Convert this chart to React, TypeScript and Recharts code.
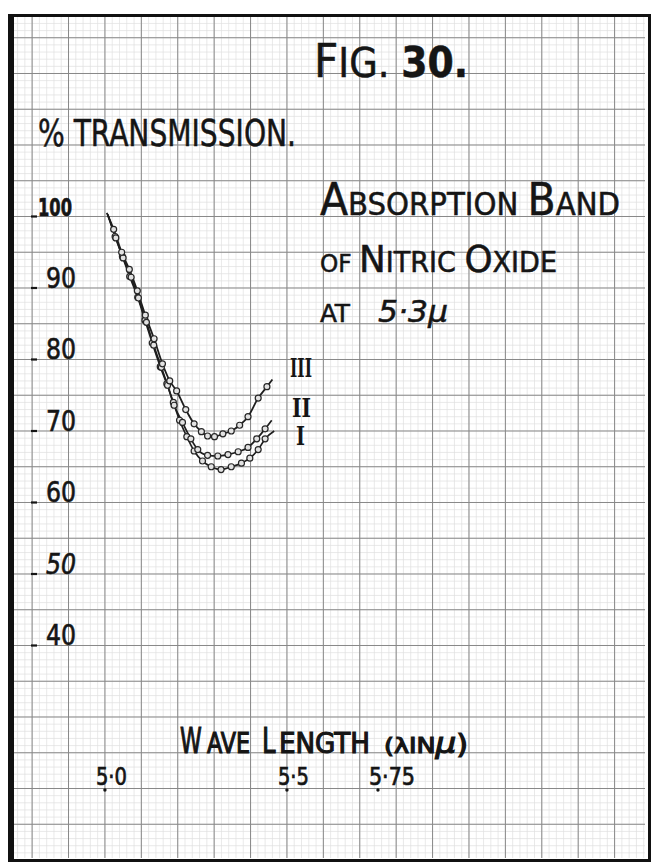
import React from "react";
import { ComposedChart, Line, XAxis, YAxis, CartesianGrid } from "recharts";

// plot area = the sheet of graph paper
const X_MIN = 4.742;
const X_MAX = 6.4835;
const Y_MIN = 10.28;
const Y_MAX = 128.04;

const Y_TICKS = [40, 50, 60, 70, 80, 90, 100];
const X_TICKS = [5.0, 5.5, 5.75];
const X_TICK_LABELS = ["5·0", "5·5", "5·75"];

// curve I (lowest)
const WL_I = [5.008, 5.028, 5.048, 5.068, 5.09, 5.11, 5.13, 5.152, 5.17, 5.188, 5.205, 5.225, 5.245, 5.268, 5.292, 5.319, 5.347, 5.375, 5.398, 5.421, 5.44, 5.465];
const T_I = [100.2, 97.2, 94.4, 91.6, 88.7, 85.5, 82.3, 79.0, 76.6, 74.0, 71.5, 69.2, 67.2, 65.8, 65.0, 64.6, 65.0, 65.5, 66.2, 67.4, 68.9, 70.0];

// curve II
const WL_II = [5.008, 5.03, 5.05, 5.072, 5.092, 5.114, 5.134, 5.155, 5.172, 5.19, 5.213, 5.236, 5.255, 5.282, 5.31, 5.338, 5.366, 5.393, 5.417, 5.44, 5.458];
const T_II = [100.3, 97.0, 94.2, 91.5, 88.6, 85.2, 82.0, 78.9, 76.4, 73.6, 71.2, 68.9, 67.4, 66.6, 66.5, 66.7, 67.1, 67.7, 68.9, 70.3, 71.5];

// curve III (highest)
const WL_III = [5.005, 5.024, 5.046, 5.067, 5.089, 5.111, 5.135, 5.158, 5.178, 5.197, 5.222, 5.245, 5.265, 5.282, 5.301, 5.324, 5.347, 5.37, 5.393, 5.421, 5.445, 5.46];
const T_III = [100.5, 98.2, 95.0, 92.6, 89.6, 86.2, 82.9, 79.4, 77.0, 75.6, 73.0, 71.0, 69.9, 69.3, 69.2, 69.6, 70.0, 70.8, 72.0, 74.6, 76.2, 77.2];

const toSeries = (wl: number[], t: number[]) => wl.map((w, i) => ({ wl: w, t: t[i] }));
const SERIES_I = toSeries(WL_I, T_I);
const SERIES_II = toSeries(WL_II, T_II);
const SERIES_III = toSeries(WL_III, T_III);

function range(a: number, b: number, step: number) {
  const out: number[] = [];
  for (let v = a; v <= b + 1e-9; v += step) out.push(+v.toFixed(3));
  return out;
}
// graph paper rulings
const GRID_X_MAJOR = range(4.8, 6.4, 0.1);
const GRID_X_FINE = range(4.76, 6.48, 0.02);
const GRID_Y_MAJOR = range(15, 125, 5);
const GRID_Y_FINE = range(11, 128, 1);

const FONT = "'DejaVu Sans Condensed', 'Liberation Sans Narrow', 'DejaVu Sans', sans-serif";
const INK = "#151515";

const YTick = ({ y, payload }: any) => {
  const big = payload.value === 100;
  return (
    <g>
      <line x1={31} x2={37} y1={y} y2={y} stroke={INK} strokeWidth={2.2} />
      <text
        x={big ? 38 : 46}
        y={y}
        fontSize={big ? 25 : 28}
        fontWeight={big ? "bold" : "normal"}
        fontStyle={payload.value === 50 ? "italic" : "normal"}
        textLength={big ? 34 : 30}
        lengthAdjust="spacingAndGlyphs"
        fontFamily={FONT}
        fill={INK}
        stroke={INK}
        strokeWidth={0.6}
      >
        {payload.value}
      </text>
    </g>
  );
};

const XTick = ({ x, payload }: any) => {
  const i = X_TICKS.indexOf(payload.value);
  const label = X_TICK_LABELS[i];
  return (
    <g>
      <circle cx={x} cy={790} r={1.7} fill={INK} />
      <text
        x={x - 9}
        y={785}
        fontSize={25}
        textLength={label.length > 3 ? 46 : 31}
        lengthAdjust="spacingAndGlyphs"
        fontFamily={FONT}
        fill={INK}
        stroke={INK}
        strokeWidth={0.7}
      >
        {label}
      </text>
    </g>
  );
};

const makeDot = (n: number) => (props: any) => {
  const { cx, cy, index } = props;
  if (index === 0 || index === n - 1) return <g key={`d-${index}`} />;
  return <circle key={`d-${index}`} cx={cx} cy={cy} r={3} fill="#e2e2e2" stroke="#262626" strokeWidth={1.2} />;
};

export default function App() {
  return (
    <div style={{ position: "absolute", left: 0, top: 0, width: 651, height: 863, background: "#ffffff" }}>
      <ComposedChart width={651} height={863} margin={{ top: 16, right: 6, bottom: 4, left: 10 }}>
        <XAxis
          xAxisId="x"
          dataKey="wl"
          type="number"
          domain={[X_MIN, X_MAX]}
          allowDataOverflow
          ticks={X_TICKS}
          interval={0}
          height={1}
          axisLine={false}
          tickLine={false}
          tick={<XTick />}
        />
        <YAxis
          yAxisId="y"
          type="number"
          domain={[Y_MIN, Y_MAX]}
          allowDataOverflow
          ticks={Y_TICKS}
          interval={0}
          width={1}
          axisLine={false}
          tickLine={false}
          tick={<YTick />}
        />
        <CartesianGrid
          xAxisId="x"
          yAxisId="y"
          verticalValues={GRID_X_FINE}
          horizontalValues={GRID_Y_FINE}
          stroke="#e0e0e0"
          strokeWidth={0.7}
        />
        <CartesianGrid
          xAxisId="x"
          yAxisId="y"
          verticalValues={GRID_X_MAJOR}
          horizontalValues={GRID_Y_MAJOR}
          stroke="#888888"
          strokeWidth={1}
        />

        <Line xAxisId="x" yAxisId="y" data={SERIES_I} dataKey="t" type="monotone" stroke="#1e1e1e" strokeWidth={1.7} dot={makeDot(SERIES_I.length)} isAnimationActive={false} />
        <Line xAxisId="x" yAxisId="y" data={SERIES_II} dataKey="t" type="monotone" stroke="#1e1e1e" strokeWidth={1.7} dot={makeDot(SERIES_II.length)} isAnimationActive={false} />
        <Line xAxisId="x" yAxisId="y" data={SERIES_III} dataKey="t" type="monotone" stroke="#1e1e1e" strokeWidth={1.8} dot={makeDot(SERIES_III.length)} isAnimationActive={false} />

        <g fill={INK} stroke={INK} strokeWidth={0.5} fontFamily={FONT}>
          <text x={314} y={77} textLength={154} lengthAdjust="spacingAndGlyphs">
            <tspan fontSize={47}>F</tspan>
            <tspan fontSize={41}>IG. </tspan>
            <tspan fontSize={42} fontWeight="bold">30.</tspan>
          </text>
          <text x={38} y={146} fontSize={38} textLength={258} lengthAdjust="spacingAndGlyphs">
            % TRANSMISSION.
          </text>
          <text x={320} y={215} textLength={300} lengthAdjust="spacingAndGlyphs">
            <tspan fontSize={45}>A</tspan>
            <tspan fontSize={32}>BSORPTION </tspan>
            <tspan fontSize={45}>B</tspan>
            <tspan fontSize={32}>AND</tspan>
          </text>
          <text x={320} y={272} textLength={237} lengthAdjust="spacingAndGlyphs">
            <tspan fontSize={24}>OF </tspan>
            <tspan fontSize={37}>N</tspan>
            <tspan fontSize={28}>ITRIC </tspan>
            <tspan fontSize={37}>O</tspan>
            <tspan fontSize={28}>XIDE</tspan>
          </text>
          <text x={320} y={322} fontSize={24} textLength={30} lengthAdjust="spacingAndGlyphs">
            AT
          </text>
          <text x={378} y={322} fontSize={30} fontStyle="italic" textLength={70} lengthAdjust="spacingAndGlyphs">
            5·3μ
          </text>
          <g strokeWidth={1.1}>
            <text transform="translate(180 753) scale(0.68 1)" fontSize={36}>W</text>
            <text x={207} y={753} fontSize={28} textLength={43} lengthAdjust="spacingAndGlyphs">AVE</text>
            <text transform="translate(262 753) scale(0.75 1)" fontSize={36}>L</text>
            <text x={279} y={753} fontSize={28} textLength={91} lengthAdjust="spacingAndGlyphs">ENGTH</text>
            <text x={384} y={753} textLength={84} lengthAdjust="spacingAndGlyphs">
              <tspan fontSize={22}>(λIN</tspan>
              <tspan fontSize={28} fontStyle="italic">μ</tspan>
              <tspan fontSize={26}>)</tspan>
            </text>
          </g>
          <g fontFamily="'DejaVu Serif', serif" fontWeight="bold" fontSize={26} strokeWidth={0}>
            <text x={290} y={377} textLength={22} lengthAdjust="spacingAndGlyphs">III</text>
            <text x={292} y={417} textLength={19} lengthAdjust="spacingAndGlyphs">II</text>
            <text x={296} y={445} textLength={9} lengthAdjust="spacingAndGlyphs">I</text>
          </g>
        </g>
      </ComposedChart>
      {/* heavy black frame around the sheet */}
      <div
        style={{
          position: "absolute",
          left: 8,
          top: 14,
          width: 634,
          height: 842,
          borderTop: "3px solid #111",
          borderRight: "3px solid #111",
          borderBottom: "3px solid #111",
          borderLeft: "6px solid #111",
          pointerEvents: "none",
        }}
      />
    </div>
  );
}
